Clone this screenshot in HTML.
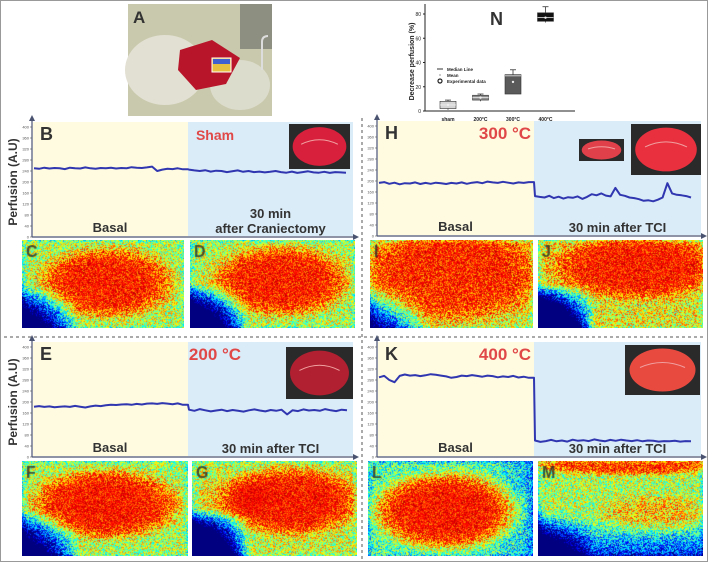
<!DOCTYPE html>
<html><head><meta charset="utf-8">
<style>
html,body{margin:0;padding:0;background:#fff;}
#root{position:relative;width:708px;height:562px;overflow:hidden;font-family:"Liberation Sans",Arial,sans-serif;background:#fff;}
canvas{position:absolute;}
svg{position:absolute;left:0;top:0;}
</style></head>
<body>
<div id="root">
<svg id="main" width="708" height="562"></svg>
</div>
<script>
// ---- perfusion trace data (A.U.) ----
const shamBasal=[250,248,252,249,251,250,247,252,250,249,253,250,248,251,250,252,249,251,250,254,252,251,253,256,240,245,248,247,250,246];
const shamAfter=[245,242,240,243,238,241,240,236,239,242,237,240,236,238,235,237,240,236,234,238,233,236,239,235,234,237,233,236,235,234];
const t300Basal=[193,196,190,194,188,192,191,195,189,193,190,194,192,189,193,191,195,190,194,196,192,198,195,193,197,194,191,195,193,196];
const t300After=[145,142,140,146,138,143,136,141,139,144,135,142,152,148,155,147,144,175,150,146,140,138,134,128,130,126,132,140,192,155,150,148,145,140];
const t200Basal=[183,185,182,184,181,183,184,182,186,183,180,184,187,185,188,190,189,191,192,190,193,191,194,195,193,196,194,192,195,190];
const t200After=[172,168,174,170,166,169,172,167,171,168,165,170,173,169,166,171,168,172,155,170,167,173,169,171,168,174,170,167,172,170];
const t400Basal=[290,295,280,272,295,300,296,298,294,297,301,299,296,293,288,291,296,294,298,295,292,296,294,290,293,291,295,289,292,288];
const t400After=[60,55,58,62,57,60,56,63,59,61,58,64,60,57,62,59,63,60,58,61,57,60,59,56,58,57,59,56,58,57];
const yTicks=[0,40,80,120,160,200,240,280,320,360,400];
// ---- panel N box data (%) ----
const nCats=["sham","200°C","300°C","400°C"];
const nQ1=[2,9,14,74];
const nMed=[5,11,29,77];
const nQ3=[8,13,30,81];
const nMin=[1,8,14,73];
const nMax=[9,14,34,86];
const nMean=[5,11,24,77];
const nTicks=[0,20,40,60,80];

const NS="http://www.w3.org/2000/svg";
const svg=document.getElementById('main');
function el(tag,attrs,parent){const e=document.createElementNS(NS,tag);for(const k in attrs)e.setAttribute(k,attrs[k]);(parent||svg).appendChild(e);return e;}
function txt(s,attrs,parent){const t=el('text',attrs,parent);t.textContent=s;return t;}

el('rect',{x:0.5,y:0.5,width:707,height:561,fill:'none',stroke:'#999',});
el('line',{x1:4,y1:337,x2:704,y2:337,stroke:'#555','stroke-dasharray':'3,3',});
el('line',{x1:362,y1:118,x2:362,y2:560,stroke:'#555','stroke-dasharray':'3,3',});

function chart(o){
  const g=el('g',{});
  const bottom=o.bottom, top=bottom-110;
  const y=v=>bottom-v*110/400;
  el('rect',{x:o.x0+1,y:bottom-115,width:o.xd-o.x0-1,height:114,fill:'#fefbe0',},g);
  el('rect',{x:o.xd,y:bottom-115,width:o.xe-o.xd,height:114,fill:'#daecf8',},g);
  el('line',{x1:o.x0,y1:bottom,x2:o.xe+2,y2:bottom,stroke:'#4a5470','stroke-width':1.2,},g);
  el('path',{d:`M${o.xe+6},${bottom} l-6,-3 v6 z`,fill:'#4a5470'},g);
  el('line',{x1:o.x0,y1:bottom,x2:o.x0,y2:bottom-118,stroke:'#4a5470','stroke-width':1.2,},g);
  el('path',{d:`M${o.x0},${bottom-122} l-3,6 h6 z`,fill:'#4a5470'},g);
  yTicks.forEach(t=>{
    el('line',{x1:o.x0-2,y1:y(t),x2:o.x0,y2:y(t),stroke:'#555','stroke-width':0.6},g);
    const l=txt(String(t),{x:o.x0-3,y:y(t)+1.5,'font-size':4,fill:'#555','text-anchor':'end'},g);
    
    
  });
  const pts=[];
  const xb=o.x0+2, w1=o.xd-xb;
  o.basal.forEach((v,i)=>pts.push([xb+i*w1/o.basal.length,y(v)]));
  pts.push([o.xd,y(o.basal[o.basal.length-1])]);
  const w2=o.te-o.xd;
  o.after.forEach((v,i)=>pts.push([o.xd+1+i*w2/(o.after.length-1),y(v)]));
  const pl=el('polyline',{points:pts.map(p=>p[0].toFixed(1)+','+p[1].toFixed(1)).join(' '),fill:'none',stroke:'#3036b0','stroke-width':2,'stroke-linejoin':'round'},g);
  
  
  txt(o.letter,{x:o.x0+8,y:top+13,'font-size':18,'font-weight':'bold',fill:'#333',},g);
  txt(o.title,{x:o.tx,y:top+13,'font-size':o.title=='Sham'?14:17,'font-weight':'bold',fill:'#e04848','text-anchor':'middle',},g);
  txt('Basal',{x:(o.x0+o.xd)/2,y:bottom-5,'font-size':13,'font-weight':'bold',fill:'#333','text-anchor':'middle',},g);
  if(o.after2){
    txt('30 min',{x:(o.xd+o.xe)/2,y:bottom-19,'font-size':13,'font-weight':'bold',fill:'#333','text-anchor':'middle',},g);
    txt(o.after2,{x:(o.xd+o.xe)/2,y:bottom-4,'font-size':13,'font-weight':'bold',fill:'#333','text-anchor':'middle',},g);
  } else txt('30 min after TCI',{x:(o.xd+o.xe)/2,y:bottom-4,'font-size':13,'font-weight':'bold',fill:'#333','text-anchor':'middle',},g);
  if(o.ylab){
    txt('Perfusion (A.U)',{x:0,y:0,transform:`translate(17,${bottom-55}) rotate(-90)`,'font-size':12,'font-weight':'bold',fill:'#333','text-anchor':'middle',},g);
  }
  o.insets.forEach(b=>{
    el('rect',{x:b[0],y:b[1],width:b[2],height:b[3],fill:'#2a2a2a',},g);
    el('ellipse',{cx:b[0]+b[2]/2,cy:b[1]+b[3]/2,rx:b[2]*0.44,ry:b[3]*0.43,fill:b[4]},g);
    el('path',{d:`M${b[0]+b[2]*0.2},${b[1]+b[3]*0.45} q${b[2]*0.3},-${b[3]*0.2} ${b[2]*0.6},0`,fill:'none',stroke:'#f0a0a0','stroke-width':1},g);
  });
}
chart({name:'chart-sham',letter:'B',title:'Sham',tx:215,x0:32,xd:188,xe:353,te:345,bottom:237,basal:shamBasal,after:shamAfter,after2:'after Craniectomy',ylab:true,insets:[[289,124,61,45,'#d8203c']]});
chart({name:'chart-300c',letter:'H',title:'300 °C',tx:505,x0:377,xd:534,xe:701,te:690,bottom:236,basal:t300Basal,after:t300After,insets:[[579,139,45,22,'#e0404a'],[631,124,70,51,'#e8303e']]});
chart({name:'chart-200c',letter:'E',title:'200 °C',tx:215,x0:32,xd:188,xe:353,te:346,bottom:457,basal:t200Basal,after:t200After,ylab:true,insets:[[286,347,67,52,'#b02030']]});
chart({name:'chart-400c',letter:'K',title:'400 °C',tx:505,x0:377,xd:534,xe:701,te:690,bottom:457,basal:t400Basal,after:t400After,insets:[[625,345,75,50,'#e84a40']]});

// ---- panel A photo ----
(function(){
  const g=el('g',{});
  el('rect',{x:128,y:4,width:144,height:112,fill:'#c9c9ad'},g);
  el('ellipse',{cx:165,cy:70,rx:40,ry:35,fill:'#e2e0d2'},g);
  el('ellipse',{cx:240,cy:85,rx:30,ry:25,fill:'#dcdccc'},g);
  el('rect',{x:240,y:4,width:32,height:45,fill:'#8d9080'},g);
  el('path',{d:'M180,50 L212,40 L240,58 L226,84 L196,90 L178,70 Z',fill:'#b8152a'},g);
  el('rect',{x:212,y:58,width:19,height:14,fill:'#e8c040',stroke:'#fff','stroke-width':1},g);
  el('rect',{x:213,y:59,width:17,height:5,fill:'#4060d0'},g);
  el('path',{d:'M262,70 v-28 q0,-6 6,-6',fill:'none',stroke:'#ddd','stroke-width':2},g);
  txt('A',{x:133,y:23,'font-size':17,'font-weight':'bold',fill:'#333'},g);
})();

// ---- panel N box plot ----
(function(){
  const g=el('g',{});
  const x0=425,x1=575,yb=111,yt=4;
  const y=v=>yb-v*(yb-14)/80;
  const xc=i=>448+i*32.5;
  el('line',{x1:x0,y1:yb,x2:x1,y2:yb,stroke:'#222',},g);
  el('line',{x1:x0,y1:yb,x2:x0,y2:yt,stroke:'#222',},g);
  nTicks.forEach(t=>{
    el('line',{x1:x0-2,y1:y(t),x2:x0,y2:y(t),stroke:'#222'},g);
    const l=txt(String(t),{x:x0-4,y:y(t)+2,'font-size':5,fill:'#222','text-anchor':'end'},g);
    
    
  });
  txt('Decrease perfusion (%)',{x:0,y:0,transform:`translate(414,${(yb+yt)/2+4}) rotate(-90)`,'font-size':7,'font-weight':'bold',fill:'#222','text-anchor':'middle',},g);
  const fills=['#d6d6d6','#8c8c8c','#5a5a5a','#111'];
  nCats.forEach((c,i)=>{
    const cx=xc(i);
    el('line',{x1:cx,y1:y(nMin[i]),x2:cx,y2:y(nMax[i]),stroke:'#333','stroke-width':0.8},g);
    el('line',{x1:cx-3,y1:y(nMax[i]),x2:cx+3,y2:y(nMax[i]),stroke:'#333','stroke-width':0.8},g);
    const b=el('rect',{x:cx-8,y:y(nQ3[i]),width:16,height:Math.max(1,y(nQ1[i])-y(nQ3[i])),fill:fills[i],stroke:'#333','stroke-width':0.6},g);
    
    
    el('line',{x1:cx-8,y1:y(nMed[i]),x2:cx+8,y2:y(nMed[i]),stroke:'#eee','stroke-width':0.8},g);
    el('circle',{cx:cx,cy:y(nMean[i]),r:1.2,fill:'#eee'},g);
    txt(c,{x:cx,y:121,'font-size':5,'font-weight':'bold',fill:'#222','text-anchor':'middle',},g);
  });
  txt('N',{x:490,y:25,'font-size':18,'font-weight':'bold',fill:'#333',},g);
  const lg=el('g',{},g);
  el('line',{x1:437,y1:69,x2:443,y2:69,stroke:'#777','stroke-width':1.5},lg);
  txt('Median Line',{x:447,y:71,'font-size':4.5,'font-weight':'bold',fill:'#222'},lg);
  el('circle',{cx:440,cy:75,r:1,fill:'#bbb'},lg);
  txt('Mean',{x:447,y:77,'font-size':4.5,'font-weight':'bold',fill:'#222'},lg);
  el('circle',{cx:440,cy:81,r:2,fill:'none',stroke:'#222','stroke-width':1.2},lg);
  txt('Experimental data',{x:447,y:83,'font-size':4.5,'font-weight':'bold',fill:'#222'},lg);
})();

// ---- laser speckle heatmaps (images) ----
function hash(x,y,s){let h=(x*374761393+y*668265263+s*2147483647)|0;h=Math.imul(h^(h>>>13),1274126177);h^=h>>>16;return ((h>>>0)%10000)/10000;}
function jet(v){v=Math.max(0,Math.min(1,v));const c=a=>Math.max(0,Math.min(1,1.5-Math.abs(4*v-a)))*255;return [c(3),c(2),c(1)];}
function heat(name,letter,x,y,w,h,base,blobs,seed){
  const c=document.createElement('canvas');c.width=w;c.height=h;c.style.left=x+'px';c.style.top=y+'px';
  
  
  document.getElementById('root').appendChild(c);
  const ctx=c.getContext('2d');const im=ctx.createImageData(w,h);
  for(let j=0;j<h;j++)for(let i=0;i<w;i++){
    const u=i/w,v=j/h;let val=base(u,v);
    blobs.forEach(b=>{const d=((u-b[0])/b[2])**2+((v-b[1])/b[3])**2;val+=b[4]*Math.exp(-d*d*d);});
    const edge=Math.min(u,1-u,v,1-v);
    if(edge<0.04)val-=(0.04-edge)*2.5;
    val+=(hash(i,j,seed)-0.5)*0.4;
    if(val>0.9)val=0.88+(hash(i+7,j,seed+1)-0.5)*0.14;
    const col=jet(val);const k=(j*w+i)*4;im.data[k]=col[0];im.data[k+1]=col[1];im.data[k+2]=col[2];im.data[k+3]=255;
  }
  ctx.putImageData(im,0,0);
  ctx.font='bold 16px "Liberation Sans",sans-serif';ctx.fillStyle='rgba(40,40,40,0.8)';ctx.fillText(letter,4,17);
}
const lowLeft=(u,v,k)=>k*Math.max(0,0.35-u)*Math.max(0,v-0.5)*14;
heat('heatmap-c','C',22,240,162,88,(u,v)=>0.56-lowLeft(u,v,0.5),[[0.52,0.48,0.4,0.38,0.35]],3);
heat('heatmap-d','D',190,240,165,88,(u,v)=>0.56-lowLeft(u,v,0.7),[[0.55,0.46,0.4,0.38,0.35]],5);
heat('heatmap-i','I',370,240,163,88,(u,v)=>0.66-0.06*v-lowLeft(u,v,0.3),[[0.5,0.4,0.55,0.5,0.25]],7);
heat('heatmap-j','J',538,240,165,88,(u,v)=>0.62-lowLeft(u,v,1.0),[[0.6,0.3,0.5,0.35,0.3]],9);
heat('heatmap-f','F',22,461,166,95,(u,v)=>0.55-lowLeft(u,v,0.5),[[0.5,0.45,0.43,0.35,0.38]],11);
heat('heatmap-g','G',192,461,165,95,(u,v)=>0.58-lowLeft(u,v,1.0),[[0.6,0.42,0.4,0.34,0.35],[0.25,0.38,0.2,0.2,0.1]],13);
heat('heatmap-l','L',368,461,165,95,(u,v)=>0.45-0.15*Math.max(0,u-0.7)*3,[[0.47,0.52,0.43,0.39,0.48]],15);
heat('heatmap-m','M',538,461,165,95,(u,v)=>0.55-0.35*Math.max(0,v-0.6)*3-lowLeft(u,v,0.4),[[0.55,0.02,0.6,0.12,0.3],[0.7,0.55,0.3,0.2,0.12]],17);
</script>
</body></html>
